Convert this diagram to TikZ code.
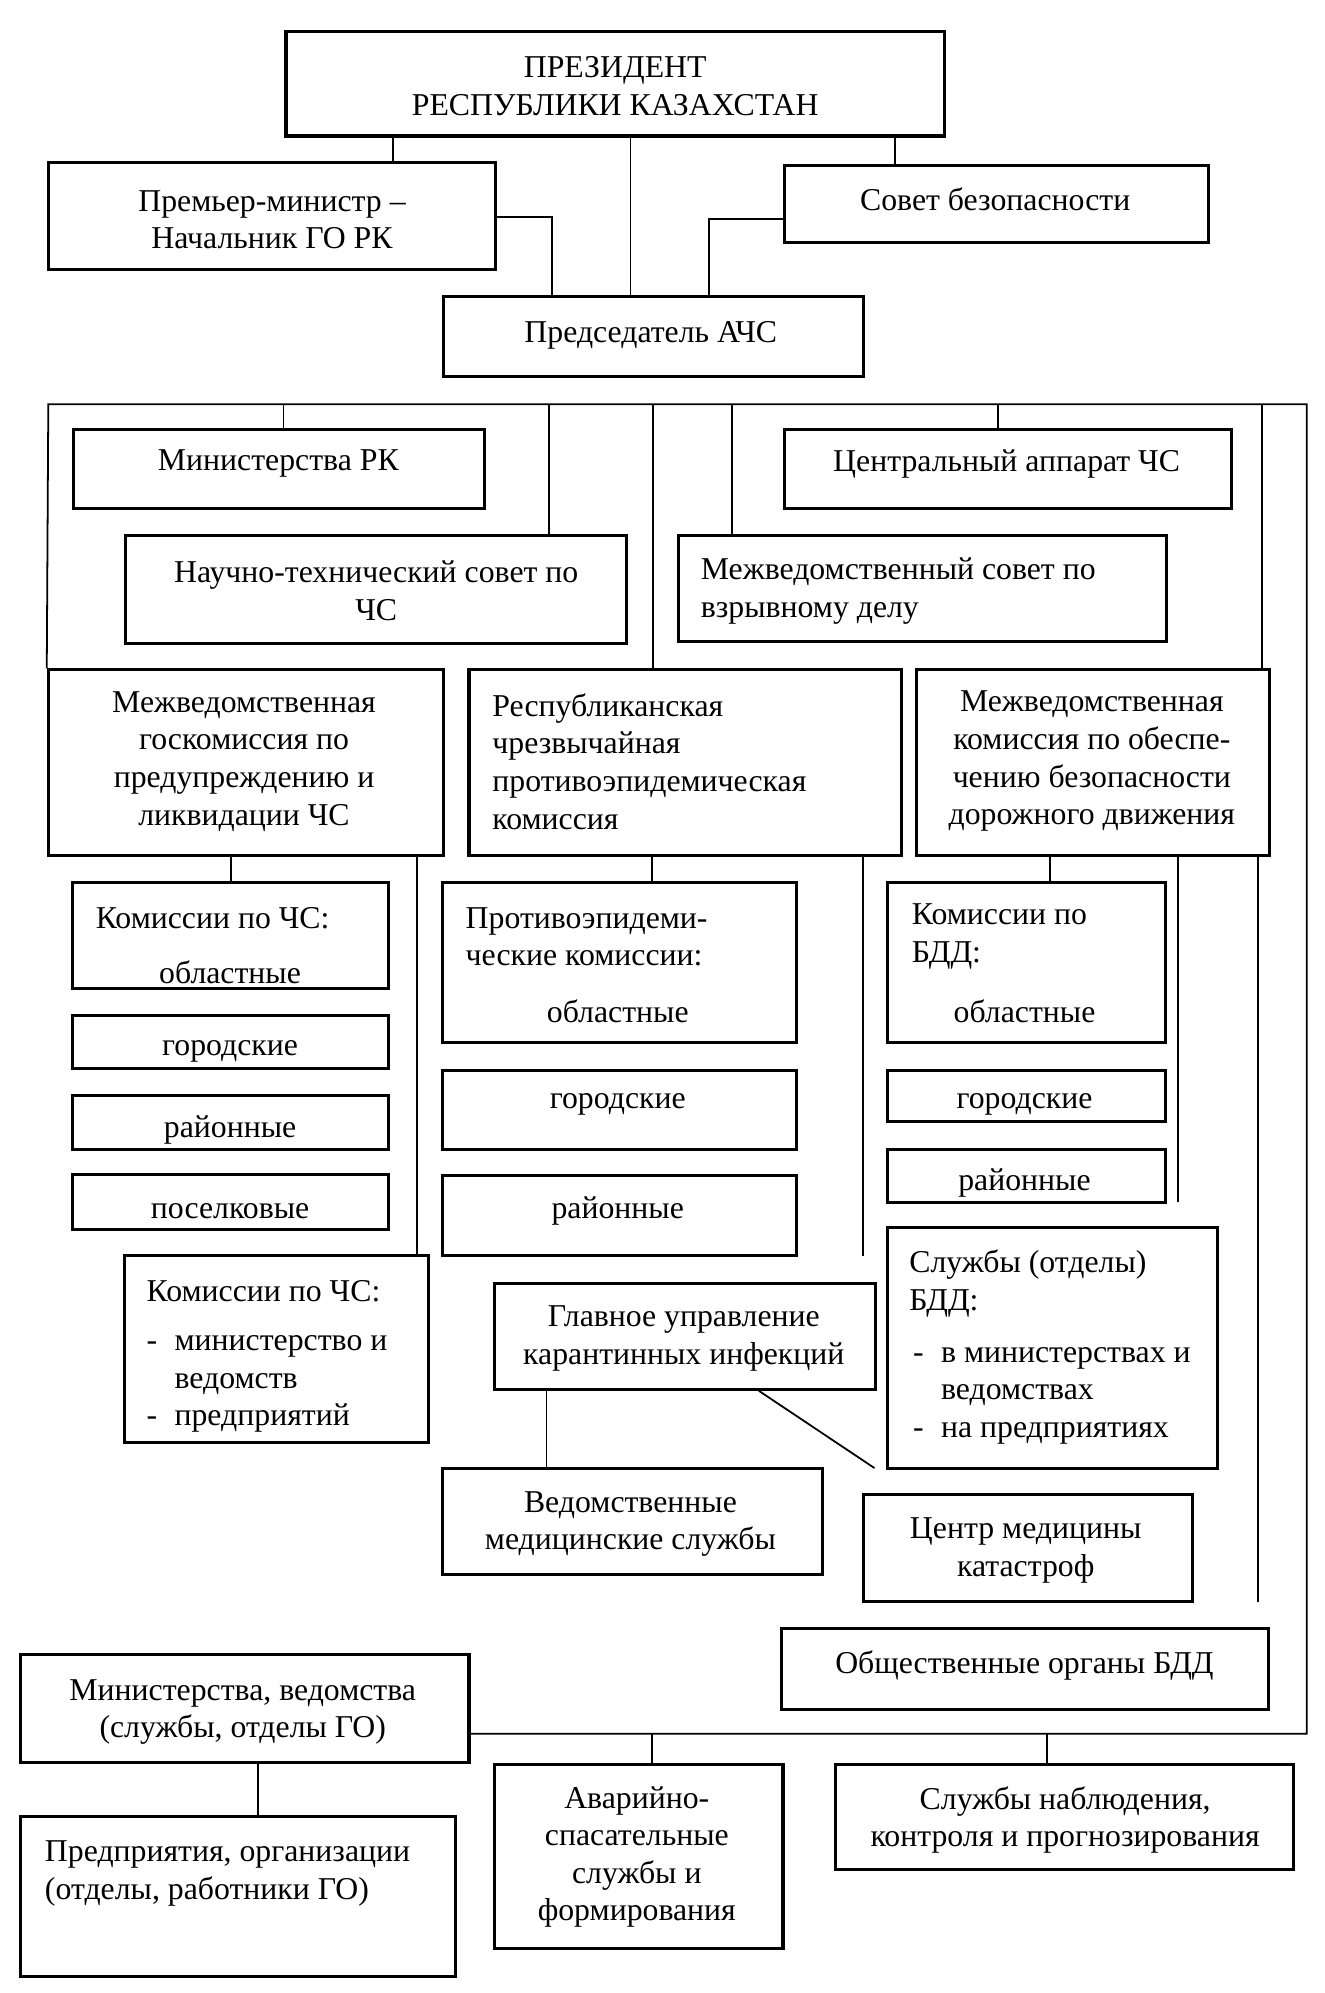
\documentclass[tikz,border=0pt]{standalone}
\usepackage{fontspec}
\setmainfont{Liberation Serif}
\usetikzlibrary{fit}
\tikzset{
  boxs/.style={draw, line width=1.2pt, inner sep=0pt},
  conn/.style={line width=0.7pt},
  txt/.style={font=\fontsize{12.5}{14.8}\selectfont, inner sep=0pt, align=center, yshift=-1.5pt},
  ltxt/.style={txt, align=left, anchor=west}
}
\newcommand{\bxs}[5]{\path (#2,#3) coordinate (#1-p) (#4,#5) coordinate (#1-q); \node[boxs, fit=(#1-p)(#1-q)] (#1) {};}
\newcommand{\dsh}{\makebox[11pt][l]{-}}
\begin{document}
\begin{tikzpicture}[x=0.5pt,y=-0.5pt]
\useasboundingbox (0,0) rectangle (1042,1568);
\fill[white] (0,0) rectangle (1042,1568);

% boxes
\bxs{pres}{225}{25}{743}{107}
\bxs{prem}{38}{128}{390}{212}
\bxs{sovet}{617}{130}{951}{191}
\bxs{pred}{349}{233}{679}{296}
\bxs{minrk}{58}{338}{381}{400}
\bxs{central}{617}{338}{969}{400}
\bxs{nauch}{99}{421}{493}{506}
\bxs{mvsov}{534}{421}{918}{505}
\bxs{goskom}{38}{527}{349}{673}
\bxs{resp}{369}{527}{709}{673}
\bxs{mkbdd}{721}{527}{999}{673}
\bxs{kchsA}{57}{694}{306}{778}
\bxs{gorA}{57}{799}{306}{841}
\bxs{rayA}{57}{862}{306}{904}
\bxs{posA}{57}{924}{306}{967}
\bxs{kchsB}{98}{988}{337}{1135}
\bxs{protB}{348}{694}{627}{820}
\bxs{gorB}{348}{842}{627}{904}
\bxs{rayB}{348}{925}{627}{988}
\bxs{glav}{389}{1010}{689}{1093}
\bxs{ved}{348}{1155}{647}{1239}
\bxs{kbddC}{698}{694}{917}{820}
\bxs{gorC}{698}{842}{917}{882}
\bxs{rayC}{698}{904}{917}{946}
\bxs{sluzh}{698}{966}{958}{1155}
\bxs{cmk}{679}{1176}{938}{1260}
\bxs{obsh}{615}{1281}{998}{1345}
\bxs{minved}{16}{1302}{369}{1387}
\bxs{predpr}{16}{1429}{358}{1555}
\bxs{avar}{389}{1388}{616}{1533}
\bxs{nabl}{657}{1388}{1018}{1471}

% top connectors
\draw[conn] (pres.south -| 309,0) -- (prem.north -| 309,0);
\draw[conn] (pres.south -| 496,0) -- (pred.north -| 496,0);
\draw[conn] (pres.south -| 704,0) -- (sovet.north -| 704,0);
\draw[conn] (prem.east |- 0,171) -| (pred.north -| 434,0);
\draw[conn] (sovet.west |- 0,172) -| (pred.north -| 558,0);

% bracket
\coordinate (bl) at (38,318);
\coordinate (br) at (1028,318);
\coordinate (bb) at (1028,1364);
\draw[conn] (goskom.north west) -- (bl) -- (br) -- (bb) -- (minved.east |- bb);
\foreach \xx/\nd in {223/minrk, 432/nauch, 514/resp, 576/mvsov, 785/central, 993/mkbdd}
  \draw[conn] (bl -| \xx,0) -- (\nd.north -| \xx,0);

% row 3 to row 4
\draw[conn] (goskom.south -| 182,0) -- (kchsA.north -| 182,0);
\draw[conn] (goskom.south -| 328,0) -- (kchsB.north -| 328,0);
\draw[conn] (resp.south -| 513,0) -- (protB.north -| 513,0);
\coordinate (respend) at (679,988);
\draw[conn] (resp.south -| respend) -- (respend);
\draw[conn] (mkbdd.south -| 826,0) -- (kbddC.north -| 826,0);
\coordinate (mkendA) at (927,946);
\draw[conn] (mkbdd.south -| mkendA) -- (mkendA);
\coordinate (mkendB) at (990,1260);
\draw[conn] (mkbdd.south -| mkendB) -- (mkendB);

% glavnoe
\draw[conn] (glav.south -| 430,0) -- (ved.north -| 430,0);
\coordinate (diagend) at (688,1155);
\draw[conn] (glav.south -| 597,0) -- (diagend);

% bottom
\draw[conn] (minved.south -| 203,0) -- (predpr.north -| 203,0);
\draw[conn] (bb -| 513,0) -- (avar.north -| 513,0);
\draw[conn] (bb -| 824,0) -- (nabl.north -| 824,0);

% texts
\node[txt] (tpres) at (484,65) {ПРЕЗИДЕНТ\\РЕСПУБЛИКИ КАЗАХСТАН};
\node[txt] (tprem) at (214,170) {Премьер-министр –\\Начальник ГО РК};
\node[txt] (tsovet) at (783,154) {Совет безопасности};
\node[txt] (tpred) at (512,261) {Председатель АЧС};
\node[txt] (tminrk) at (219,362) {Министерства РК};
\node[txt] (tcentral) at (792,362) {Центральный аппарат ЧС};
\node[txt] (tnauch) at (296,462) {Научно-технический совет по\\ЧС};
\node[ltxt] (tmvsov) at (551,462) {Межведомственный совет по\\взрывному делу};
\node[txt] (tgoskom) at (192,596) {Межведомственная\\госкомиссия по\\предупреждению и\\ликвидации ЧС};
\node[ltxt] (tresp) at (387,596) {Республиканская\\чрезвычайная\\противоэпидемическая\\комиссия};
\node[txt] (tmkbdd) at (859,596) {Межведомственная\\комиссия по обеспе-\\чению безопасности\\дорожного движения};

\node[ltxt] (tkchsA) at (75,719) {Комиссии по ЧС:};
\node[txt] (toblA) at (181,762) {областные};
\node[txt] (tgorA) at (181,824) {городские};
\node[txt] (trayA) at (181,886) {районные};
\node[txt] (tposA) at (181,950) {поселковые};
\node[ltxt] (tkchsB) at (115,1013) {Комиссии по ЧС:};
\node[ltxt] (tlistB) at (115,1086) {\dsh министерство и\\\hspace*{11pt}ведомств\\\dsh предприятий};

\node[ltxt] (tprotB) at (366,734) {Противоэпидеми-\\ческие комиссии:};
\node[txt] (toblB) at (486,793) {областные};
\node[txt] (tgorB) at (486,866) {городские};
\node[txt] (trayB) at (486,950) {районные};
\node[txt] (tglav) at (538,1050) {Главное управление\\карантинных инфекций};
\node[txt] (tved) at (496,1196) {Ведомственные\\медицинские службы};

\node[ltxt] (tkbddC) at (717,734) {Комиссии по\\БДД:};
\node[txt] (toblC) at (806,793) {областные};
\node[txt] (tgorC) at (806,866) {городские};
\node[txt] (trayC) at (806,928) {районные};
\node[ltxt] (tsluzh) at (715,1007) {Службы (отделы)\\БДД:};
\node[ltxt] (tlistC) at (718,1095) {\dsh в министерствах и\\\hspace*{11pt}ведомствах\\\dsh на предприятиях};
\node[txt] (tcmk) at (807,1217) {Центр медицины\\катастроф};
\node[txt] (tobsh) at (806,1307) {Общественные органы БДД};

\node[txt] (tminved) at (191,1344) {Министерства, ведомства\\(службы, отделы ГО)};
\node[ltxt] (tpredpr) at (35,1471) {Предприятия, организации\\(отделы, работники ГО)};
\node[txt] (tavar) at (501,1458) {Аварийно-\\спасательные\\службы и\\формирования};
\node[txt] (tnabl) at (838,1429) {Службы наблюдения,\\контроля и прогнозирования};
\end{tikzpicture}
\end{document}
